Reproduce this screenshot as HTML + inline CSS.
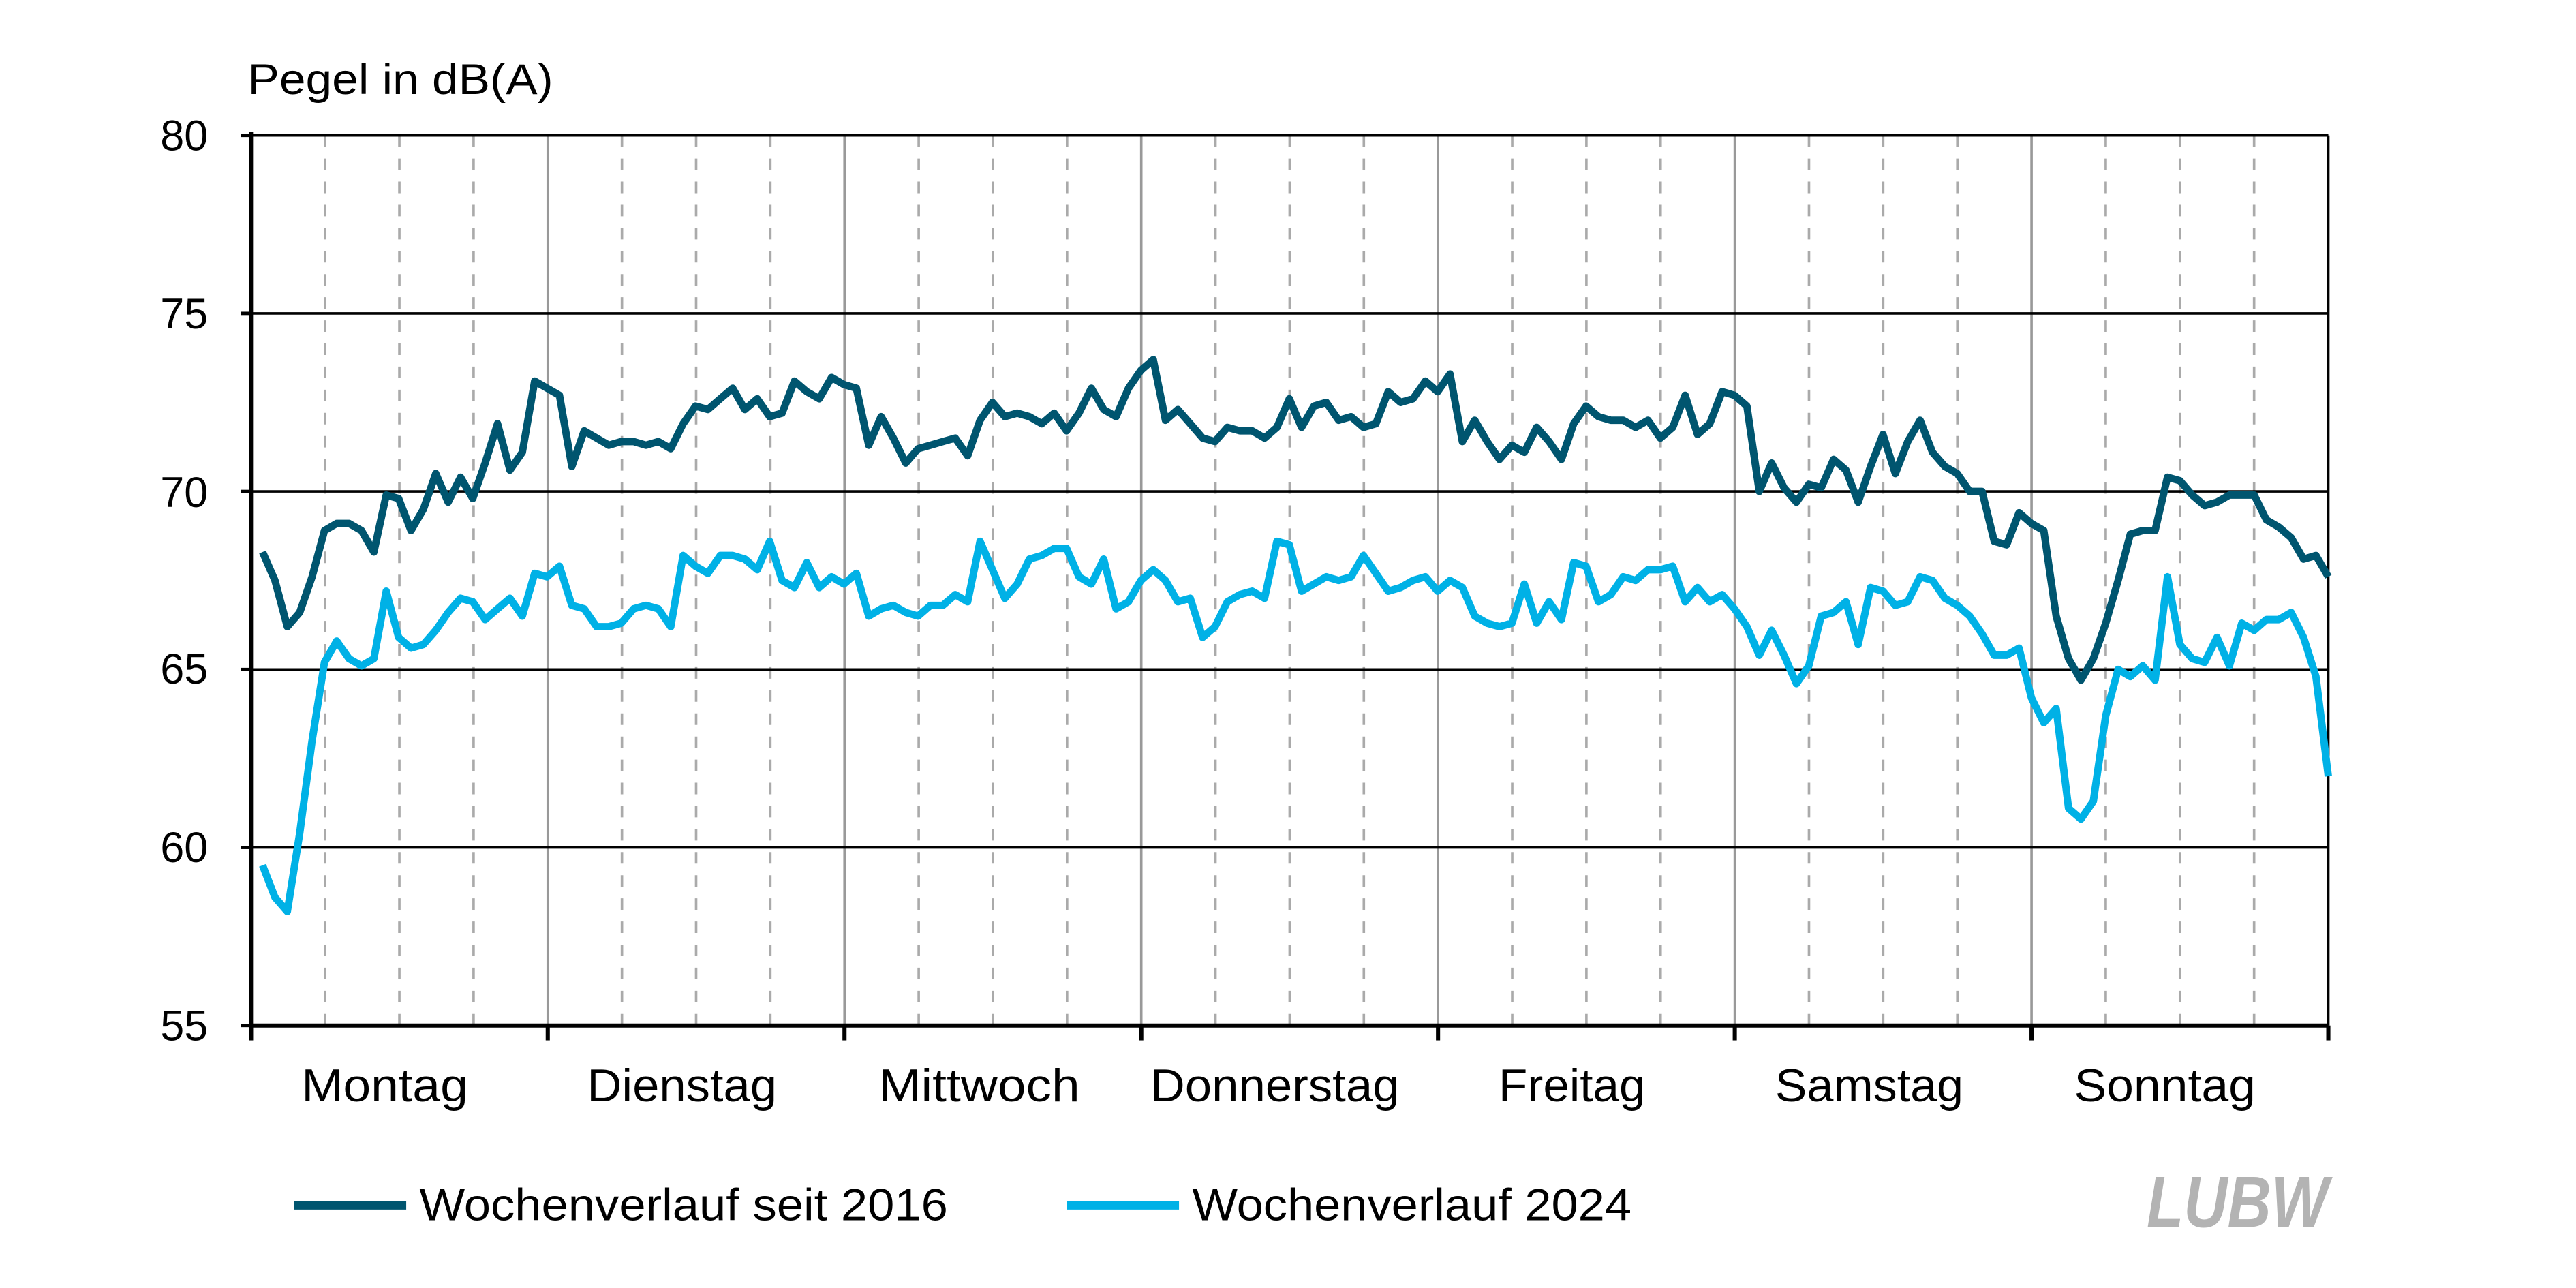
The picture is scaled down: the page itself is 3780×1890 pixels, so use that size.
<!DOCTYPE html>
<html><head><meta charset="utf-8"><style>
html,body{margin:0;padding:0;background:#fff;}
svg{display:block;}
text{font-family:"Liberation Sans",Arial,sans-serif;}
</style></head><body>
<svg id="s" width="3780" height="1890" viewBox="0 0 1560 780" xmlns="http://www.w3.org/2000/svg">
<rect width="1560" height="780" fill="#fff"/>
<g id="grid"></g>
<text x="150" y="57" font-size="26" fill="#000" textLength="185" lengthAdjust="spacingAndGlyphs">Pegel in dB(A)</text>
<g font-size="26" text-anchor="end" fill="#000">
<text x="126" y="91">80</text><text x="126" y="199">75</text><text x="126" y="307">70</text>
<text x="126" y="414">65</text><text x="126" y="522">60</text><text x="126" y="630">55</text>
</g>
<g font-size="28" text-anchor="middle" fill="#000">
<text x="233" y="667" textLength="101" lengthAdjust="spacingAndGlyphs">Montag</text>
<text x="413" y="667" textLength="115" lengthAdjust="spacingAndGlyphs">Dienstag</text>
<text x="593" y="667" textLength="122" lengthAdjust="spacingAndGlyphs">Mittwoch</text>
<text x="772" y="667" textLength="151" lengthAdjust="spacingAndGlyphs">Donnerstag</text>
<text x="952" y="667" textLength="89" lengthAdjust="spacingAndGlyphs">Freitag</text>
<text x="1132" y="667" textLength="114" lengthAdjust="spacingAndGlyphs">Samstag</text>
<text x="1311" y="667" textLength="110" lengthAdjust="spacingAndGlyphs">Sonntag</text>
</g>
<polyline id="dk" fill="none" stroke="#00556f" stroke-width="4.5" stroke-linejoin="round"/>
<polyline id="lt" fill="none" stroke="#00b1e6" stroke-width="4.5" stroke-linejoin="round"/>
<line x1="178" y1="730" x2="246" y2="730" stroke="#00556f" stroke-width="5"/>
<text x="254" y="739" font-size="27" textLength="320" lengthAdjust="spacingAndGlyphs">Wochenverlauf seit 2016</text>
<line x1="646" y1="730" x2="714" y2="730" stroke="#00b1e6" stroke-width="5"/>
<text x="722" y="739" font-size="27" textLength="266" lengthAdjust="spacingAndGlyphs">Wochenverlauf 2024</text>
<text x="1300" y="743" font-size="44" font-weight="bold" font-style="italic" fill="#b3b3b3" textLength="110" lengthAdjust="spacingAndGlyphs">LUBW</text>
</svg>
<script>
var dk=[68.3,67.5,66.2,66.6,67.6,68.9,69.1,69.1,68.9,68.3,69.9,69.8,68.9,69.5,70.5,69.7,70.4,69.8,70.8,71.9,70.6,71.1,73.1,72.9,
72.7,70.7,71.7,71.5,71.3,71.4,71.4,71.3,71.4,71.2,71.9,72.4,72.3,72.6,72.9,72.3,72.6,72.1,72.2,73.1,72.8,72.6,73.2,73.0,
72.9,71.3,72.1,71.5,70.8,71.2,71.3,71.4,71.5,71.0,72.0,72.5,72.1,72.2,72.1,71.9,72.2,71.7,72.2,72.9,72.3,72.1,72.9,73.4,
73.7,72.0,72.3,71.9,71.5,71.4,71.8,71.7,71.7,71.5,71.8,72.6,71.8,72.4,72.5,72.0,72.1,71.8,71.9,72.8,72.5,72.6,73.1,72.8,
73.3,71.4,72.0,71.4,70.9,71.3,71.1,71.8,71.4,70.9,71.9,72.4,72.1,72.0,72.0,71.8,72.0,71.5,71.8,72.7,71.6,71.9,72.8,72.7,
72.4,70.0,70.8,70.1,69.7,70.2,70.1,70.9,70.6,69.7,70.7,71.6,70.5,71.4,72.0,71.1,70.7,70.5,70.0,70.0,68.6,68.5,69.4,69.1,
68.9,66.5,65.3,64.7,65.3,66.3,67.5,68.8,68.9,68.9,70.4,70.3,69.9,69.6,69.7,69.9,69.9,69.9,69.2,69.0,68.7,68.1,68.2,67.6];
var lt=[59.5,58.6,58.2,60.4,63.0,65.2,65.8,65.3,65.1,65.3,67.2,65.9,65.6,65.7,66.1,66.6,67.0,66.9,66.4,66.7,67.0,66.5,67.7,67.6,
67.9,66.8,66.7,66.2,66.2,66.3,66.7,66.8,66.7,66.2,68.2,67.9,67.7,68.2,68.2,68.1,67.8,68.6,67.5,67.3,68.0,67.3,67.6,67.4,
67.7,66.5,66.7,66.8,66.6,66.5,66.8,66.8,67.1,66.9,68.6,67.8,67.0,67.4,68.1,68.2,68.4,68.4,67.6,67.4,68.1,66.7,66.9,67.5,
67.8,67.5,66.9,67.0,65.9,66.2,66.9,67.1,67.2,67.0,68.6,68.5,67.2,67.4,67.6,67.5,67.6,68.2,67.7,67.2,67.3,67.5,67.6,67.2,
67.5,67.3,66.5,66.3,66.2,66.3,67.4,66.3,66.9,66.4,68.0,67.9,66.9,67.1,67.6,67.5,67.8,67.8,67.9,66.9,67.3,66.9,67.1,66.7,
66.2,65.4,66.1,65.4,64.6,65.1,66.5,66.6,66.9,65.7,67.3,67.2,66.8,66.9,67.6,67.5,67.0,66.8,66.5,66.0,65.4,65.4,65.6,64.2,
63.5,63.9,61.1,60.8,61.3,63.7,65.0,64.8,65.1,64.7,67.6,65.7,65.3,65.2,65.9,65.1,66.3,66.1,66.4,66.4,66.6,65.9,64.8,62.0];
var L=152,R=1410,dw=(R-L)/7;
function Y(v){return 82+(80-v)*21.56;}
function pts(a){return a.map(function(v,i){return (159+i*(R-159)/167).toFixed(1)+','+Y(v).toFixed(1);}).join(' ');}
document.getElementById('dk').setAttribute('points',pts(dk));
document.getElementById('lt').setAttribute('points',pts(lt));
var g='';
for(var d=0;d<7;d++){for(var q=1;q<4;q++){var x=L+dw*d+dw*q/4;g+='<line x1="'+x+'" y1="82" x2="'+x+'" y2="621" stroke="#aaa" stroke-width="1.5" stroke-dasharray="7,7"/>';}}
for(var d=1;d<7;d++){var x=L+dw*d;g+='<line x1="'+x+'" y1="82" x2="'+x+'" y2="621" stroke="#999" stroke-width="1.5"/>';}
for(var k=0;k<5;k++){var y=82+k*107.8;g+='<line x1="152" y1="'+y+'" x2="'+R+'" y2="'+y+'" stroke="#000" stroke-width="1.5"/>';}
for(var k=0;k<6;k++){var y=82+k*107.8;g+='<line x1="146" y1="'+y+'" x2="152" y2="'+y+'" stroke="#000" stroke-width="2"/>';}
g+='<line x1="'+R+'" y1="82" x2="'+R+'" y2="621" stroke="#000" stroke-width="1.5"/>';
g+='<line x1="152" y1="80" x2="152" y2="630" stroke="#000" stroke-width="2.5"/>';
g+='<line x1="152" y1="621" x2="'+R+'" y2="621" stroke="#000" stroke-width="2.5"/>';
for(var d=0;d<=7;d++){var x=L+dw*d;g+='<line x1="'+x+'" y1="621" x2="'+x+'" y2="630" stroke="#000" stroke-width="2.5"/>';}
document.getElementById('grid').innerHTML=g;
</script>
</body></html>
